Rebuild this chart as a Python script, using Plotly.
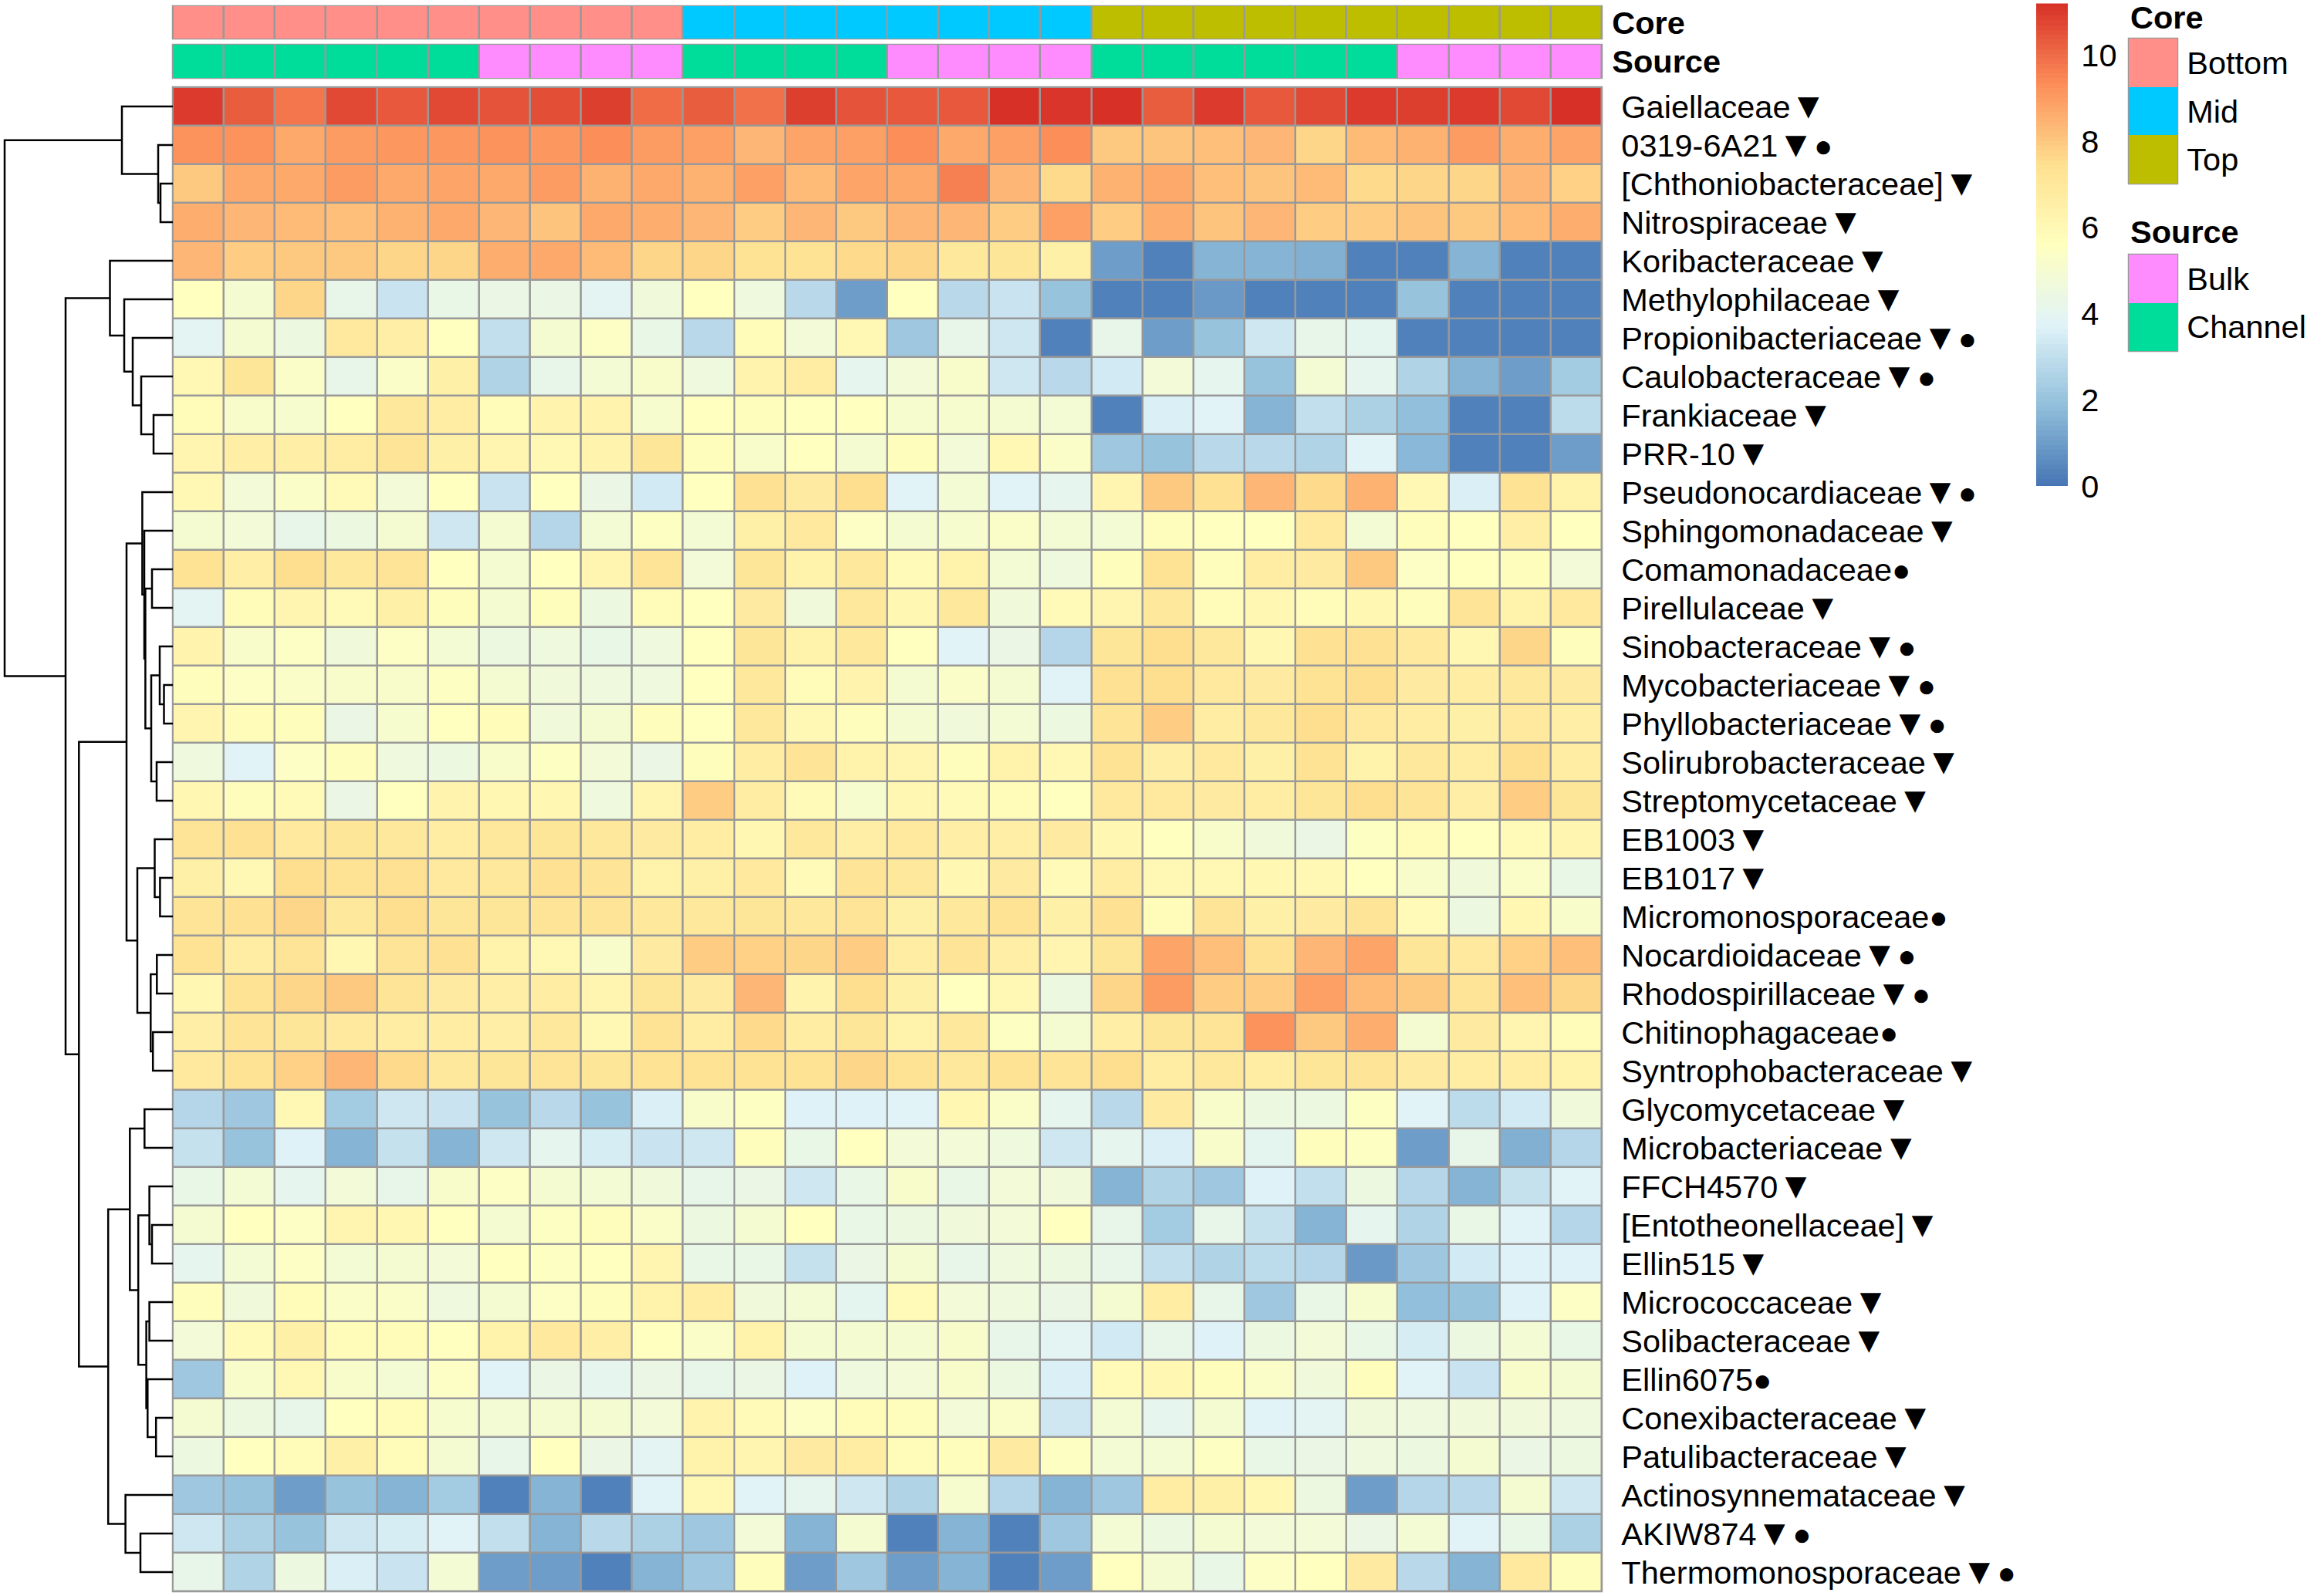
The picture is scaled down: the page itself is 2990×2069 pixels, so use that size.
import plotly.graph_objects as go

W = 2990
H = 2069

families = ["Gaiellaceae", "0319-6A21", "[Chthoniobacteraceae]", "Nitrospiraceae", "Koribacteraceae",
            "Methylophilaceae", "Propionibacteriaceae", "Caulobacteraceae", "Frankiaceae", "PRR-10",
            "Pseudonocardiaceae", "Sphingomonadaceae", "Comamonadaceae", "Pirellulaceae", "Sinobacteraceae",
            "Mycobacteriaceae", "Phyllobacteriaceae", "Solirubrobacteraceae", "Streptomycetaceae", "EB1003",
            "EB1017", "Micromonosporaceae", "Nocardioidaceae", "Rhodospirillaceae", "Chitinophagaceae",
            "Syntrophobacteraceae", "Glycomycetaceae", "Microbacteriaceae", "FFCH4570", "[Entotheonellaceae]",
            "Ellin515", "Micrococcaceae", "Solibacteraceae", "Ellin6075", "Conexibacteraceae",
            "Patulibacteraceae", "Actinosynnemataceae", "AKIW874", "Thermomonosporaceae"]
# t = triangle after the name, d = dot after the name
marks = ["t", "td", "t", "t", "t", "t", "td", "td", "t", "t",
         "td", "t", "d", "t", "td", "td", "td", "t", "t", "t",
         "t", "d", "td", "td", "d", "t", "t", "t", "t", "t",
         "t", "t", "t", "d", "t", "t", "t", "td", "td"]

abundance = [
    [11.0, 10.3, 9.8, 10.7, 10.4, 10.7, 10.5, 10.6, 10.9, 10.0, 10.3, 9.9, 10.9, 10.5, 10.4, 10.4, 11.3, 11.1, 11.2, 10.3, 11.0, 10.4, 10.7, 11.0, 10.9, 11.0, 10.7, 11.2],
    [9.2, 9.2, 8.7, 9.0, 9.1, 9.1, 9.2, 9.1, 9.3, 9.0, 8.9, 8.4, 8.8, 8.9, 9.3, 8.7, 8.9, 9.3, 8.0, 8.1, 8.2, 8.4, 7.7, 8.3, 8.5, 9.0, 8.6, 8.8],
    [8.0, 8.7, 8.7, 9.0, 8.7, 8.8, 8.7, 9.0, 8.5, 8.7, 8.5, 8.9, 8.3, 8.8, 8.7, 9.6, 8.4, 7.6, 8.5, 8.7, 8.2, 8.1, 8.3, 7.6, 7.7, 7.7, 8.4, 7.8],
    [8.6, 8.4, 8.3, 8.2, 8.5, 8.7, 8.4, 8.1, 8.7, 8.6, 8.4, 7.9, 8.4, 8.0, 8.4, 8.4, 7.9, 8.9, 7.9, 8.6, 8.1, 8.4, 7.9, 7.9, 8.1, 8.0, 8.3, 8.6],
    [8.4, 7.9, 8.0, 8.0, 7.7, 7.7, 8.6, 8.7, 8.3, 7.7, 7.7, 7.3, 7.3, 7.6, 7.7, 7.0, 7.1, 6.5, 1.0, 0.3, 1.6, 1.6, 1.5, 0.3, 0.3, 1.6, 0.3, 0.3],
    [5.6, 5.0, 7.7, 4.2, 3.2, 4.3, 4.4, 4.4, 3.9, 4.7, 5.6, 4.6, 2.8, 1.0, 5.6, 2.8, 3.2, 2.0, 0.3, 0.3, 0.9, 0.3, 0.3, 0.3, 2.0, 0.3, 0.3, 0.3],
    [3.9, 5.0, 4.5, 6.9, 6.6, 5.6, 3.0, 5.0, 5.4, 4.3, 2.8, 5.8, 4.8, 6.0, 2.2, 4.2, 3.3, 0.3, 4.2, 1.0, 2.0, 3.3, 4.2, 4.0, 0.3, 0.3, 0.3, 0.3],
    [6.0, 7.1, 5.3, 4.2, 5.3, 6.5, 2.6, 4.2, 4.9, 5.2, 4.6, 6.3, 6.7, 4.1, 4.8, 5.2, 3.3, 2.8, 3.4, 4.8, 4.1, 2.0, 4.9, 4.1, 2.6, 1.6, 1.0, 2.3],
    [5.8, 5.2, 5.1, 5.6, 7.0, 6.7, 5.8, 6.3, 6.3, 5.1, 5.6, 5.7, 5.6, 5.6, 5.1, 5.1, 5.0, 4.9, 0.3, 3.6, 3.8, 1.6, 3.0, 2.5, 1.9, 0.3, 0.3, 2.9],
    [6.2, 6.6, 6.6, 6.7, 7.2, 6.5, 6.2, 6.0, 6.3, 7.1, 5.7, 5.2, 5.6, 5.0, 5.7, 4.8, 6.0, 5.3, 2.2, 2.0, 2.8, 2.8, 2.6, 3.8, 1.7, 0.3, 0.3, 1.0],
    [6.0, 4.8, 5.3, 5.9, 4.8, 5.6, 3.2, 5.6, 4.4, 3.4, 5.6, 7.4, 6.8, 7.5, 3.8, 4.9, 3.8, 4.1, 6.2, 8.0, 7.4, 8.4, 7.6, 8.5, 6.0, 3.6, 7.3, 6.4],
    [5.0, 4.8, 4.2, 4.5, 5.0, 3.3, 5.0, 2.7, 4.9, 5.5, 4.9, 6.5, 6.9, 5.4, 5.0, 5.1, 5.3, 4.9, 4.9, 5.7, 5.6, 5.6, 6.9, 4.9, 5.7, 5.6, 6.6, 5.6],
    [7.3, 6.6, 7.5, 7.0, 7.2, 5.6, 5.0, 5.6, 6.2, 7.2, 4.8, 7.1, 6.4, 7.0, 5.9, 6.4, 4.9, 4.6, 5.7, 7.3, 5.7, 6.7, 6.8, 8.0, 5.4, 5.6, 5.7, 4.8],
    [3.9, 5.8, 6.2, 5.9, 6.5, 5.7, 5.0, 5.7, 4.5, 5.8, 5.6, 6.8, 4.7, 7.0, 6.1, 7.0, 4.7, 5.9, 6.2, 7.0, 5.8, 6.1, 5.8, 6.1, 5.7, 7.2, 6.4, 6.9],
    [6.3, 5.2, 5.4, 4.7, 5.4, 4.9, 4.5, 4.6, 4.3, 4.6, 5.6, 7.1, 6.4, 7.0, 5.6, 3.8, 4.4, 2.7, 7.1, 7.5, 7.0, 6.1, 7.4, 7.4, 6.9, 6.1, 7.7, 5.7],
    [5.7, 5.4, 5.3, 5.2, 5.2, 5.5, 5.0, 4.7, 4.6, 4.6, 5.6, 7.0, 5.8, 6.3, 5.0, 5.3, 5.0, 3.8, 7.4, 7.5, 6.9, 6.8, 7.3, 7.5, 6.8, 6.7, 7.0, 6.8],
    [6.2, 5.8, 5.7, 4.4, 5.1, 5.6, 5.8, 4.7, 5.0, 5.7, 5.6, 7.0, 6.0, 5.7, 5.0, 4.7, 4.9, 4.5, 7.2, 7.9, 6.7, 7.0, 7.5, 6.9, 6.7, 6.5, 6.9, 6.6],
    [4.6, 3.8, 5.4, 5.7, 4.6, 4.5, 5.2, 5.5, 4.8, 4.4, 5.7, 6.7, 7.2, 6.4, 6.2, 5.7, 6.4, 6.0, 7.3, 6.6, 6.9, 6.5, 7.3, 6.4, 7.0, 6.7, 7.5, 6.7],
    [6.1, 5.7, 5.9, 4.4, 5.6, 6.3, 6.1, 6.1, 4.6, 6.2, 7.9, 6.7, 5.9, 5.1, 6.1, 5.9, 5.8, 5.6, 6.9, 6.9, 6.8, 6.7, 7.1, 7.5, 7.2, 6.6, 7.9, 7.1],
    [7.2, 7.4, 6.9, 7.1, 7.0, 6.7, 7.0, 7.1, 7.0, 6.8, 6.7, 6.1, 7.0, 6.6, 6.9, 6.6, 6.6, 6.8, 6.1, 5.6, 5.2, 4.7, 4.4, 5.5, 5.8, 5.6, 5.9, 6.2],
    [6.5, 6.0, 7.5, 7.3, 7.4, 6.9, 7.0, 7.4, 7.2, 6.4, 6.5, 6.9, 5.9, 7.2, 7.0, 6.1, 6.8, 5.9, 6.7, 6.0, 6.0, 6.1, 6.0, 5.6, 5.2, 4.7, 5.3, 4.3],
    [7.2, 7.4, 7.7, 7.0, 7.5, 7.1, 7.1, 7.2, 7.2, 7.0, 7.0, 7.1, 7.0, 7.2, 6.5, 7.0, 7.3, 6.5, 7.4, 5.8, 7.2, 6.5, 6.8, 7.2, 5.9, 4.5, 6.1, 5.2],
    [7.3, 6.7, 7.2, 6.1, 7.2, 7.4, 6.4, 6.0, 5.2, 6.8, 7.9, 7.8, 7.7, 7.9, 6.7, 7.2, 6.6, 6.2, 7.1, 8.8, 8.2, 7.4, 8.4, 8.8, 7.1, 6.9, 7.8, 8.2],
    [6.1, 7.3, 7.7, 8.0, 7.2, 6.8, 6.6, 6.7, 6.2, 7.1, 6.8, 8.4, 6.3, 7.5, 6.5, 5.6, 6.0, 4.5, 7.7, 9.0, 7.9, 7.9, 8.9, 8.3, 8.0, 7.2, 8.2, 7.7],
    [6.6, 7.2, 7.1, 6.9, 6.7, 6.7, 6.6, 7.0, 6.0, 7.3, 6.7, 7.6, 6.7, 7.1, 6.4, 7.0, 5.5, 5.0, 6.6, 7.1, 7.2, 9.2, 8.0, 8.6, 5.0, 6.8, 6.2, 5.8],
    [6.9, 7.3, 7.8, 8.4, 7.6, 7.0, 7.1, 7.2, 7.1, 7.3, 7.3, 7.3, 7.3, 7.7, 7.3, 7.0, 7.3, 7.2, 7.5, 6.7, 7.0, 6.7, 7.1, 7.2, 6.8, 6.7, 6.7, 6.4],
    [2.7, 2.2, 6.0, 2.3, 3.3, 3.2, 2.0, 2.8, 2.0, 3.6, 5.2, 5.5, 3.7, 3.7, 3.8, 6.1, 5.3, 4.1, 2.8, 6.8, 5.2, 4.5, 4.5, 5.5, 3.8, 2.9, 3.4, 4.7],
    [3.1, 2.0, 3.7, 1.6, 3.1, 1.6, 3.3, 4.1, 3.5, 3.2, 3.3, 5.7, 4.3, 5.6, 4.8, 4.8, 4.6, 3.3, 4.1, 3.6, 5.2, 4.0, 5.7, 5.5, 1.0, 4.2, 1.5, 2.7],
    [4.3, 4.9, 4.1, 4.8, 4.2, 5.2, 5.4, 5.0, 4.9, 4.7, 4.2, 4.4, 3.3, 4.3, 5.2, 4.3, 4.8, 4.7, 1.6, 2.6, 2.2, 3.7, 3.0, 4.5, 2.7, 1.6, 3.1, 3.8],
    [5.0, 5.6, 5.4, 6.2, 6.1, 5.6, 5.0, 5.5, 5.7, 5.3, 4.5, 5.0, 5.6, 4.3, 4.5, 4.7, 4.8, 5.6, 4.2, 2.3, 4.2, 3.1, 1.6, 4.1, 2.6, 4.3, 3.8, 2.7],
    [4.1, 4.9, 5.4, 4.9, 5.0, 4.8, 5.6, 5.5, 5.6, 6.2, 4.3, 4.3, 3.1, 4.4, 5.0, 4.2, 4.6, 4.5, 4.2, 3.0, 2.6, 2.9, 2.7, 0.9, 2.2, 3.4, 3.7, 3.7],
    [5.7, 4.7, 5.8, 5.3, 5.3, 4.6, 5.0, 5.4, 5.7, 6.4, 6.7, 4.7, 4.9, 4.0, 5.9, 4.8, 4.6, 4.4, 5.0, 6.7, 4.2, 2.2, 4.3, 5.1, 1.9, 2.0, 3.7, 5.4],
    [4.8, 5.9, 6.5, 5.8, 5.8, 5.6, 6.4, 6.9, 6.6, 5.6, 5.3, 6.4, 5.0, 5.0, 5.0, 5.2, 4.2, 3.9, 3.4, 4.2, 3.7, 4.5, 4.8, 4.3, 3.5, 4.5, 4.9, 4.3],
    [2.2, 5.2, 6.0, 5.2, 4.9, 5.4, 3.8, 4.4, 4.1, 4.4, 4.2, 4.4, 3.7, 4.6, 4.8, 5.2, 4.5, 3.6, 5.9, 6.1, 5.7, 5.3, 4.7, 5.7, 3.8, 3.2, 5.2, 5.0],
    [5.0, 4.5, 4.2, 5.6, 5.8, 5.1, 4.9, 5.0, 5.0, 4.8, 6.3, 5.9, 5.4, 5.8, 5.7, 4.8, 5.3, 3.3, 4.9, 4.1, 5.0, 3.8, 3.9, 4.7, 4.6, 4.7, 4.7, 4.6],
    [4.5, 5.6, 5.8, 6.5, 5.8, 5.0, 4.2, 5.6, 4.4, 3.9, 6.4, 6.2, 6.8, 6.7, 5.8, 5.7, 6.8, 5.5, 4.9, 4.9, 5.5, 4.3, 4.4, 4.6, 4.5, 5.0, 4.4, 4.5],
    [2.2, 2.0, 1.0, 2.0, 1.6, 2.3, 0.3, 1.6, 0.3, 3.8, 6.0, 3.8, 4.1, 3.3, 2.6, 5.1, 2.7, 1.6, 2.2, 6.7, 6.5, 6.1, 4.5, 1.0, 2.7, 2.8, 5.0, 3.3],
    [3.3, 2.5, 2.0, 3.3, 3.5, 3.8, 3.0, 1.6, 2.8, 2.5, 2.2, 4.8, 1.6, 5.0, 0.3, 1.6, 0.3, 2.2, 4.9, 4.5, 5.0, 4.8, 4.8, 4.4, 4.9, 3.8, 4.3, 2.5],
    [4.2, 2.6, 4.5, 3.6, 3.2, 4.9, 1.0, 1.0, 0.3, 1.6, 2.2, 5.7, 1.0, 2.2, 1.0, 1.6, 0.3, 1.0, 5.6, 5.0, 4.3, 5.4, 5.6, 6.8, 2.8, 1.6, 6.9, 5.7],
]

core_levels = ["Bottom", "Mid", "Top"]
core_colors = ["#FF8F88", "#00C9FF", "#BEBE00"]
core_samples = [0] * 10 + [1] * 8 + [2] * 10
source_levels = ["Bulk", "Channel"]
source_colors = ["#FF8CFF", "#00DC9A"]
source_samples = [1] * 6 + [0] * 4 + [1] * 4 + [0] * 4 + [1] * 6 + [0] * 4

heat_colors = ["#4575B4", "#91BFDB", "#E0F3F8", "#FFFFBF", "#FEE090", "#FC8D59", "#D73027"]
bar_ticks = [0, 2, 4, 6, 8, 10]
z_max = 11.2

# hclust style merges: negative = row number, positive = earlier merge, last = height
merges = [(-3, -4, 16), (-2, 1, 19), (-1, 2, 66), (-9, -10, 25), (-8, 4, 41), (-7, 5, 52), (-6, 6, 63),
          (-5, 7, 81.5), (-13, -14, 27), (-16, -17, 11.5), (-15, 10, 17), (-18, -19, 21), (11, 12, 28),
          (9, 13, 35.6), (-12, 14, 37), (-11, 15, 39.6), (-21, -22, 16.6), (-20, 17, 23.5), (-23, -24, 20.7),
          (-25, -26, 25.8), (19, 20, 28.7), (18, 21, 46), (16, 22, 60), (-27, -28, 36.7), (-30, -31, 27),
          (-29, 25, 30.4), (-32, -33, 30.4), (-35, -36, 21.8), (-34, 28, 32.7), (27, 29, 34.4), (26, 30, 44.8),
          (24, 31, 55.7), (-38, -39, 42), (-37, 33, 61.4), (32, 34, 83.8), (23, 35, 121.7), (8, 36, 139),
          (3, 37, 218)]

FONT = "Liberation Sans, Arial, sans-serif"
GRID = "#999999"
GAP = 2.5
TEXT = 41.5


def px_x(a, b):
    return [a / W, b / W]


def px_y(top, bottom):
    return [1 - bottom / H, 1 - top / H]


def flat_scale(colors):
    n = len(colors)
    return [[i / (n - 1), c] for i, c in enumerate(colors)]


def label(name, mark):
    s = name
    if "t" in mark:
        s += "<span style='font-size:47px'>\u25bc</span>"
    if "d" in mark:
        s += "<span style='font-size:40px'>\u25cf</span>"
    return s


# left, right, top, bottom of each block in pixels
HEAT_L, HEAT_R, HEAT_T, HEAT_B = 224, 2076, 113, 2063
CORE_T, CORE_B = 8, 50
SRC_T, SRC_B = 58, 101
LEG_L, LEG_R = 2759, 2822
LEG1_T, LEG1_B = 50, 238
LEG2_T, LEG2_B = 330, 455
BAR_L, BAR_R, BAR_T, BAR_B = 2639, 2680, 4.5, 630

n_rows = len(families)
n_cols = len(core_samples)
cols = list(range(n_cols))
rows = list(range(n_rows))
bar_steps = [z_max * i / 100 for i in range(101)]

fig = go.Figure()

fig.add_trace(go.Heatmap(z=abundance, x=cols, y=rows, zmin=0, zmax=z_max, colorscale=flat_scale(heat_colors),
                         xgap=GAP, ygap=GAP, showscale=False, hoverinfo="skip", xaxis="x", yaxis="y"))

fig.add_trace(go.Heatmap(z=[core_samples], x=cols, y=[0], zmin=0, zmax=2, colorscale=flat_scale(core_colors),
                         xgap=GAP, showscale=False, hoverinfo="skip", xaxis="x", yaxis="y2"))
fig.add_trace(go.Heatmap(z=[source_samples], x=cols, y=[0], zmin=0, zmax=1, colorscale=flat_scale(source_colors),
                         xgap=GAP, showscale=False, hoverinfo="skip", xaxis="x", yaxis="y3"))

fig.add_trace(go.Heatmap(z=[[0], [1], [2]], x=[0], y=[0, 1, 2], zmin=0, zmax=2, colorscale=flat_scale(core_colors),
                         showscale=False, hoverinfo="skip", xaxis="x3", yaxis="y4"))
fig.add_trace(go.Heatmap(z=[[0], [1]], x=[0], y=[0, 1], zmin=0, zmax=1, colorscale=flat_scale(source_colors),
                         showscale=False, hoverinfo="skip", xaxis="x3", yaxis="y5"))

# colour key drawn as a one column heatmap, a real colorbar pushes the margins
fig.add_trace(go.Heatmap(z=[[v] for v in bar_steps], x=[0], y=bar_steps, zmin=0, zmax=z_max,
                         colorscale=flat_scale(heat_colors), showscale=False, hoverinfo="skip",
                         xaxis="x4", yaxis="y6"))

# dendrogram
node_y = {}
node_h = {}
den_x = []
den_y = []
for i, (a, b, h) in enumerate(merges, start=1):
    ya = -a - 1 if a < 0 else node_y[a]
    yb = -b - 1 if b < 0 else node_y[b]
    ha = 0 if a < 0 else node_h[a]
    hb = 0 if b < 0 else node_h[b]
    den_x += [ha, h, h, hb, None]
    den_y += [ya, ya, yb, yb, None]
    node_y[i] = (ya + yb) / 2
    node_h[i] = h

fig.add_trace(go.Scatter(x=den_x, y=den_y, mode="lines", line=dict(color="black", width=2.5),
                         hoverinfo="skip", showlegend=False, cliponaxis=False, xaxis="x2", yaxis="y"))

# grey sits under the heatmaps and shows through the gaps
for l, r, t, b in [(HEAT_L, HEAT_R, HEAT_T, HEAT_B), (HEAT_L, HEAT_R, CORE_T, CORE_B),
                   (HEAT_L, HEAT_R, SRC_T, SRC_B), (LEG_L, LEG_R, LEG1_T, LEG1_B),
                   (LEG_L, LEG_R, LEG2_T, LEG2_B)]:
    fig.add_shape(type="rect", xref="paper", yref="paper", x0=l / W, x1=r / W, y0=1 - b / H, y1=1 - t / H,
                  layer="below", fillcolor=GRID, line=dict(color=GRID, width=GAP))

plain = dict(showgrid=False, zeroline=False, showticklabels=False, ticks="", automargin=False)
side_ticks = dict(side="right", showgrid=False, zeroline=False, tickmode="array", ticks="outside",
                  tickcolor="rgba(0,0,0,0)", automargin=False)

fig.update_layout(
    width=W, height=H, margin=dict(l=0, r=0, t=0, b=0), autosize=False,
    paper_bgcolor="white", plot_bgcolor="rgba(0,0,0,0)", showlegend=False,
    font=dict(family=FONT, color="black"),
    xaxis=dict(domain=px_x(HEAT_L, HEAT_R), range=[-0.5, n_cols - 0.5], anchor="y", **plain),
    xaxis2=dict(domain=px_x(0, HEAT_L), range=[HEAT_L, 0], anchor="y", **plain),
    xaxis3=dict(domain=px_x(LEG_L, LEG_R), range=[-0.5, 0.5], anchor="y4", **plain),
    xaxis4=dict(domain=px_x(BAR_L, BAR_R), range=[-0.5, 0.5], anchor="y6", **plain),
    yaxis=dict(domain=px_y(HEAT_T, HEAT_B), range=[n_rows - 0.5, -0.5], anchor="x",
               tickvals=rows, ticktext=[label(f, m) for f, m in zip(families, marks)], ticklen=16,
               tickfont=dict(family=FONT, size=TEXT), **side_ticks),
    yaxis2=dict(domain=px_y(CORE_T, CORE_B), range=[-0.5, 0.5], anchor="x",
                tickvals=[0], ticktext=["<b>Core</b>"], ticklen=4, tickfont=dict(family=FONT, size=TEXT), **side_ticks),
    yaxis3=dict(domain=px_y(SRC_T, SRC_B), range=[-0.5, 0.5], anchor="x",
                tickvals=[0], ticktext=["<b>Source</b>"], ticklen=4, tickfont=dict(family=FONT, size=TEXT), **side_ticks),
    yaxis4=dict(domain=px_y(LEG1_T, LEG1_B), range=[2.5, -0.5], anchor="x3",
                tickvals=[0, 1, 2], ticktext=core_levels, ticklen=3, tickfont=dict(family=FONT, size=TEXT), **side_ticks),
    yaxis5=dict(domain=px_y(LEG2_T, LEG2_B), range=[1.5, -0.5], anchor="x3",
                tickvals=[0, 1], ticktext=source_levels, ticklen=3, tickfont=dict(family=FONT, size=TEXT), **side_ticks),
    yaxis6=dict(domain=px_y(BAR_T, BAR_B), range=[0, z_max], anchor="x4",
                tickvals=bar_ticks, ticktext=[str(t) for t in bar_ticks], ticklen=8,
                tickfont=dict(family=FONT, size=TEXT), **side_ticks),
)

for title, y_px in [("Core", 22), ("Source", 300)]:
    fig.add_annotation(text="<b>%s</b>" % title, xref="paper", yref="paper", x=2760 / W, y=1 - y_px / H,
                       xanchor="left", yanchor="middle", showarrow=False, borderpad=0,
                       font=dict(family=FONT, size=TEXT, color="black"))

fig.write_html("out.html", config={"displayModeBar": False}, post_script="document.body.style.margin='0';")
